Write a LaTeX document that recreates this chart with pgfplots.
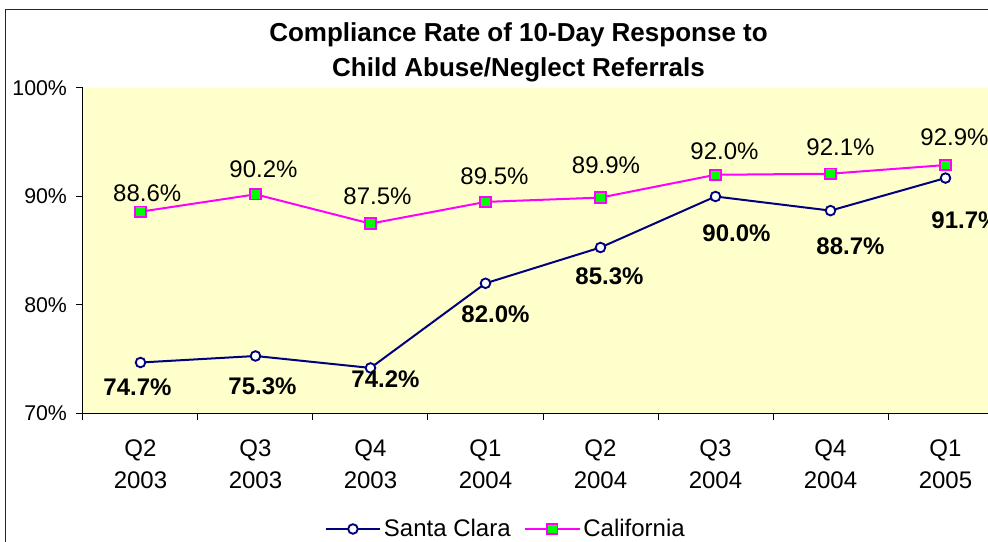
\documentclass[border=0pt]{standalone}
\usepackage{pgfplots}
\usepackage{pgfplotstable}
\pgfplotsset{compat=1.18}
\pgfplotsset{/pgf/number format/assume math mode=true}
\usepackage{fontspec}
\setmainfont{Liberation Sans}
\definecolor{sc}{HTML}{000080}
\definecolor{ca}{HTML}{FF00FF}
\definecolor{gr}{HTML}{00FF00}
\definecolor{bg}{HTML}{FFFFCC}

\pgfplotstableread{
x y dx dy
0 74.7 -3 -32.5
1 75.3 7 -39
2 74.2 15 -20
3 82.0 10 -39
4 85.3 9 -36.7
5 90.0 21 -45
6 88.7 20 -44
7 91.7 20 -50
}\santaclara
\pgfplotstableread{
x y dx dy
0 88.6 6.7 10
1 90.2 8 17
2 87.5 7 19
3 89.5 9 17
4 89.9 5.5 24
5 92.0 9 15
6 92.1 10 18
7 92.9 9 20
}\california

\begin{document}
\begin{tikzpicture}
\useasboundingbox (0pt,0pt) rectangle (741pt,406.5pt);
\clip (0pt,0pt) rectangle (741pt,406.5pt);
\fill[white] (0pt,0pt) rectangle (741pt,406.5pt);
\draw[line width=0.75pt, black!85] (3.75pt,-10pt) rectangle (760pt,399pt);
\node[anchor=base, font=\fontsize{19.5}{24}\selectfont\bfseries] at (388.9pt,375pt) {Compliance Rate of 10-Day Response to};
\node[anchor=base, font=\fontsize{19.5}{24}\selectfont\bfseries] at (388.9pt,348.75pt) {Child Abuse/Neglect Referrals};
\begin{axis}[
  at={(62.25pt,96.375pt)}, anchor=south west,
  scale only axis, width=690pt, height=244.125pt,
  xmin=-0.5, xmax=7.5, ymin=70, ymax=100,
  axis background/.style={fill=bg},
  axis x line=bottom, axis y line=left,
  axis line style={-, black, line width=0.75pt},
  tick align=outside, major tick length=5pt,
  tick style={black, line width=0.75pt},
  ytick={70,80,90,100},
  yticklabel={\pgfmathprintnumber{\tick}\%},
  y tick label style={font=\fontsize{16}{18}\selectfont, anchor=east, xshift=-3.5pt},
  xtick={-0.5,0.5,...,7.5},
  xticklabels={Q2\\[2.4pt]2003, Q3\\[2.4pt]2003, Q4\\[2.4pt]2003, Q1\\[2.4pt]2004, Q2\\[2.4pt]2004, Q3\\[2.4pt]2004, Q4\\[2.4pt]2004, Q1\\[2.4pt]2005},
  x tick label style={align=center, font=\fontsize{18}{21.6}\selectfont, xshift=43.125pt, yshift=-11pt, anchor=north},
  clip=false,
  legend style={at={(0.4598,-0.3548)}, anchor=center, draw=none, fill=none,
    font=\fontsize{18}{20}\selectfont,
    /tikz/every even column/.append style={column sep=8pt}},
  legend columns=2,
  legend image code/.code={\draw[mark repeat=2,mark phase=2,#1] plot coordinates {(0pt,0pt)(20.5pt,0pt)(41pt,0pt)};},
]
\addplot[color=sc, line width=1.5pt, mark=*, mark size=3.6pt,
  mark options={fill=white, draw=sc, line width=1.4pt},
  nodes near coords={\pgfmathprintnumber[fixed,fixed zerofill,precision=1]{\pgfplotspointmeta}\%},
  visualization depends on={\thisrow{dx} \as \ldx},
  visualization depends on={\thisrow{dy} \as \ldy},
  every node near coord/.append style={anchor=base, xshift={\ldx*0.75pt}, yshift={\ldy*0.75pt},
    font=\fontsize{18}{20}\selectfont\bfseries, text=black}
] table[x=x,y=y] {\santaclara};
\addlegendentry{Santa Clara}
\addplot[color=ca, line width=1.5pt, mark=square*, mark size=3.9pt,
  mark options={fill=gr, draw=ca, line width=1.4pt},
  nodes near coords={\pgfmathprintnumber[fixed,fixed zerofill,precision=1]{\pgfplotspointmeta}\%},
  visualization depends on={\thisrow{dx} \as \ldx},
  visualization depends on={\thisrow{dy} \as \ldy},
  every node near coord/.append style={anchor=base, xshift={\ldx*0.75pt}, yshift={\ldy*0.75pt},
    font=\fontsize{18}{20}\selectfont, text=black}
] table[x=x,y=y] {\california};
\addlegendentry{California}
\end{axis}
\end{tikzpicture}
\end{document}
